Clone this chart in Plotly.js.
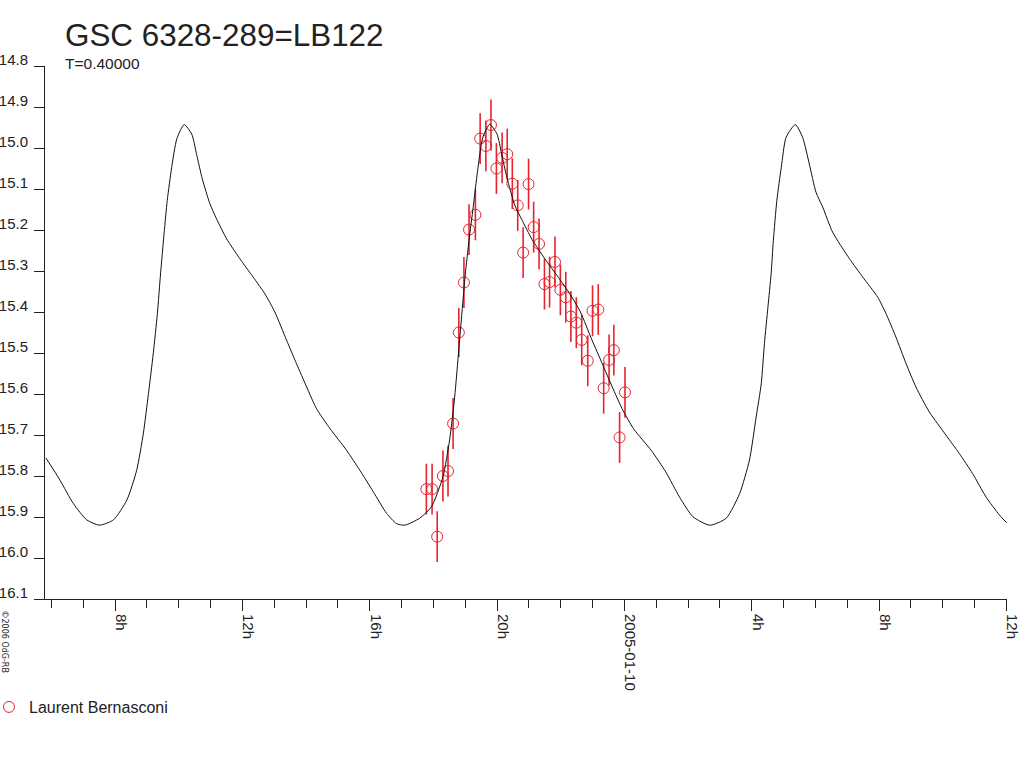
<!DOCTYPE html>
<html>
<head>
<meta charset="utf-8">
<script src="https://cdn.plot.ly/plotly-3.0.1.min.js"></script>
<style>
html,body{margin:0;padding:0;background:#fff;}
#chart{width:1024px;height:768px;}
</style>
</head>
<body>
<div id="chart"></div>
<script>
// Time in hours from 2005-01-09 00:00 (UT)
var obsHours = [17.78,17.96,18.12,18.30,18.46,18.62,18.80,18.96,19.12,19.32,19.47,19.65,19.81,19.98,20.16,20.32,20.48,20.65,20.82,20.99,21.15,21.32,21.49,21.65,21.82,21.99,22.16,22.32,22.49,22.66,22.85,23.00,23.18,23.35,23.52,23.67,23.85,24.02];
var obsMag = [15.832,15.832,15.948,15.800,15.788,15.672,15.450,15.328,15.199,15.163,14.977,14.995,14.944,15.050,15.024,15.015,15.087,15.140,15.255,15.088,15.193,15.234,15.332,15.327,15.278,15.346,15.364,15.411,15.426,15.468,15.519,15.397,15.394,15.586,15.517,15.493,15.706,15.596];
var obsErr = [0.062,0.062,0.062,0.062,0.062,0.062,0.060,0.062,0.062,0.062,0.062,0.062,0.062,0.062,0.062,0.062,0.062,0.062,0.062,0.062,0.062,0.062,0.062,0.062,0.062,0.062,0.062,0.062,0.062,0.062,0.062,0.062,0.062,0.062,0.062,0.062,0.062,0.062];

var modelHours = [5.83,6.27,6.69,7.11,7.51,7.95,8.37,8.68,8.89,9.05,9.20,9.33,9.43,9.54,9.64,9.78,9.94,10.17,10.41,10.56,10.74,10.98,11.19,11.51,11.92,12.34,12.71,13.02,13.39,13.70,14.02,14.33,14.75,15.27,15.69,16.11,16.53,16.84,17.10,17.57,
  17.94,18.30,18.51,18.67,18.80,18.90,19.00,19.12,19.25,19.39,19.55,19.77,20.00,20.14,20.31,20.56,20.78,21.10,21.50,21.93,22.30,22.62,22.98,23.30,23.62,23.93,24.30,24.85,25.30,25.73,26.15,26.68,27.20,27.62,27.93,28.14,28.30,28.40,28.51,28.61,28.68,28.79,28.93,29.08,29.37,29.60,29.81,30.02,30.23,30.54,31.07,31.49,31.96,32.22,32.53,32.85,33.16,33.58,34.10,34.52,34.94,35.36,35.78,36.01];
var modelMag = [15.756,15.810,15.867,15.907,15.920,15.907,15.859,15.786,15.696,15.599,15.502,15.404,15.307,15.209,15.128,15.047,14.978,14.943,14.966,15.015,15.075,15.136,15.173,15.222,15.270,15.315,15.356,15.400,15.469,15.526,15.583,15.636,15.684,15.737,15.786,15.838,15.891,15.916,15.920,15.903,
  15.875,15.802,15.712,15.607,15.490,15.400,15.310,15.225,15.145,15.055,14.975,14.942,14.966,15.013,15.072,15.140,15.175,15.223,15.270,15.316,15.357,15.400,15.468,15.525,15.583,15.636,15.686,15.738,15.790,15.851,15.899,15.920,15.903,15.843,15.761,15.656,15.575,15.477,15.388,15.307,15.226,15.128,15.047,14.974,14.943,14.974,15.039,15.108,15.144,15.205,15.270,15.315,15.364,15.404,15.461,15.526,15.583,15.644,15.700,15.745,15.794,15.851,15.895,15.914];

var xTickVals = [8,12,16,20,24,28,32,36];
var xTickText = ['8h','12h','16h','20h','2005-01-10','4h','8h','12h'];
var yTickVals = [14.8,14.9,15.0,15.1,15.2,15.3,15.4,15.5,15.6,15.7,15.8,15.9,16.0,16.1];
var titleText = 'GSC 6328-289=LB122';
var subtitleText = 'T=0.40000';
var observerName = 'Laurent Bernasconi';
var creditText = '©2006 OdG-RB';

var red = '#e8232e';
var ink = '#222222';
var fontFam = '"Liberation Sans", Arial, sans-serif';

var traces = [
  {
    x: obsHours, y: obsMag, type: 'scatter', mode: 'markers', name: observerName,
    marker: {symbol: 'circle-open', size: 11, color: red, line: {width: 1, color: red}},
    error_y: {type: 'data', array: obsErr, visible: true, color: red, thickness: 1.6, width: 0},
    hoverinfo: 'skip'
  },
  {
    x: modelHours, y: modelMag, type: 'scatter', mode: 'lines', showlegend: false,
    line: {color: '#111111', width: 1, shape: 'spline', smoothing: 0.6},
    hoverinfo: 'skip'
  }
];

var layout = {
  width: 1024, height: 768,
  margin: {l: 45, r: 17, t: 66, b: 169, pad: 0, autoexpand: false},
  paper_bgcolor: '#ffffff', plot_bgcolor: '#ffffff',
  font: {family: fontFam, color: ink},
  title: {
    text: titleText, xref: 'container', yref: 'container',
    x: 65/1024, xanchor: 'left', y: 1 - 35/768, yanchor: 'middle',
    font: {family: fontFam, size: 31.4, color: ink}
  },
  xaxis: {
    range: [5.8, 36.02], showgrid: false, zeroline: false, automargin: false,
    showline: true, linecolor: ink, linewidth: 1,
    tickmode: 'array', tickvals: xTickVals, ticktext: xTickText,
    ticks: 'outside', ticklen: 11, tickcolor: ink, tickwidth: 1,
    tickangle: 90, ticklabelshift: 6,
    tickfont: {family: fontFam, size: 15, color: ink},
    minor: {tickmode: 'linear', tick0: 0, dtick: 1, ticks: 'outside', ticklen: 8, tickcolor: ink, tickwidth: 1, showgrid: false}
  },
  yaxis: {
    range: [16.1, 14.8], showgrid: false, zeroline: false, automargin: false,
    showline: true, linecolor: ink, linewidth: 1,
    tickmode: 'array', tickvals: yTickVals, ticktext: yTickVals.map(function(v){return v.toFixed(1);}),
    ticks: 'outside', ticklen: 10, tickcolor: ink, tickwidth: 1,
    ticklabelshift: 6, ticklabelstandoff: 3,
    tickfont: {family: fontFam, size: 15, color: ink}
  },
  showlegend: true,
  legend: {
    xref: 'paper', yref: 'paper', x: -56/962, xanchor: 'left', y: (599-707)/533, yanchor: 'middle',
    bgcolor: 'rgba(0,0,0,0)', font: {family: fontFam, size: 16, color: ink}
  },
  annotations: [
    {text: subtitleText, xref: 'paper', yref: 'paper', x: (63-45)/962, xanchor: 'left', y: (599-63)/533, yanchor: 'middle', showarrow: false, font: {family: fontFam, size: 15.5, color: ink}},
    {text: creditText, xref: 'paper', yref: 'paper', x: (4.5-45)/962, xanchor: 'center', y: (599-641)/533, yanchor: 'middle', textangle: 90, showarrow: false, font: {family: '"DejaVu Sans", sans-serif', size: 8, color: ink}}
  ],
  hovermode: false
};

Plotly.newPlot('chart', traces, layout, {displayModeBar: false, staticPlot: true});
</script>
</body>
</html>
